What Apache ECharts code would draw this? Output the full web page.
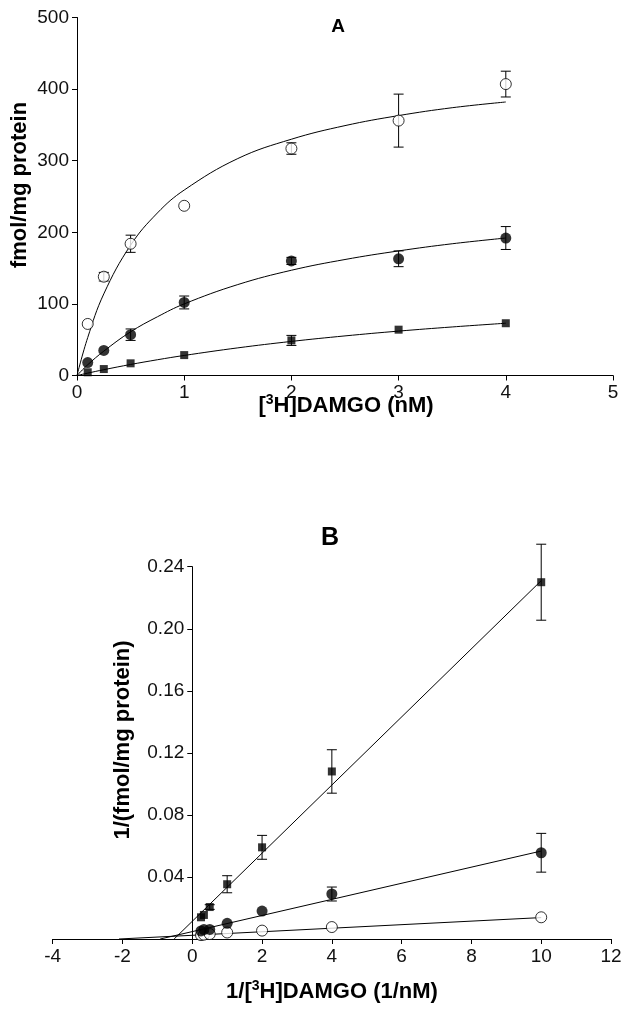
<!DOCTYPE html>
<html>
<head>
<meta charset="utf-8">
<script src="https://cdn.jsdelivr.net/npm/echarts@6/dist/echarts.min.js"></script>
<style>
html,body{margin:0;padding:0;background:#fff;}
#chart{width:629px;height:1011px;}
</style>
</head>
<body>
<div id="chart"></div>
<script>
// ---------- Panel A: saturation binding ----------
const xA = [0.1, 0.25, 0.5, 1, 2, 3, 4];
const openA = [72, 138, 184, 237, 317, 356, 407];
const openAErr = [0, 6, 12, 0, 8, 37, 18];
const filledA = [18, 35, 57, 102, 160, 163, 192];
const filledAErr = [0, 0, 8, 9, 5, 11, 16];
const squareA = [4.5, 9, 17, 28.5, 49, 64, 73];
const squareAErr = [0, 0, 0, 0, 7, 0, 0];

// fitted curves
const fitX = [0, 0.1, 0.25, 0.5, 0.75, 1, 1.5, 2, 2.5, 3, 3.5, 4];
const openFit = [0, 53, 114, 182, 227, 259, 303, 330, 349, 363, 374, 382];
const filledFit = [0, 15, 34, 61, 82, 100, 127, 147, 162, 174, 184, 192];
const squareFit = [0, 3.3, 8.1, 15.4, 22, 28, 38.6, 47.6, 55.3, 62, 67.8, 73];

const xTicksA = [0, 1, 2, 3, 4, 5];
const yTicksA = [0, 100, 200, 300, 400, 500];

// ---------- Panel B: double reciprocal ----------
const xB = [0.25, 0.333, 0.5, 1, 2, 4, 10];
const squareB = [0.014, 0.0155, 0.0206, 0.0353, 0.0591, 0.108, 0.230];
const squareBErr = [0, 0, 0.0015, 0.0055, 0.0077, 0.014, 0.0245];
const filledB = [0.0052, 0.0061, 0.0062, 0.0101, 0.018, 0.029, 0.0556];
const filledBErr = [0, 0, 0, 0, 0, 0.0045, 0.0125];
const openB = [0.0025, 0.0028, 0.0032, 0.0042, 0.0054, 0.0077, 0.014];
const openBErr = [0, 0, 0, 0, 0, 0, 0];

// regression lines
const squareLineX = [-0.52, 10], squareLineY = [0, 0.231];
const filledLineX = [-0.92, 10], filledLineY = [0, 0.0567];
const openLineX = [-2.1, 10], openLineY = [0, 0.0138];

const xTicksB = [-4, -2, 0, 2, 4, 6, 8, 10, 12];
const yTicksB = [0, 0.04, 0.08, 0.12, 0.16, 0.20, 0.24];

const FONT = 'Liberation Sans, Arial, sans-serif';
const zip = (xs, ys) => xs.map((x, i) => [x, ys[i]]);
const zip3 = (xs, ys, es) => xs.map((x, i) => [x, ys[i], es[i]]);

function errRender(params, api) {
  const x = api.value(0), y = api.value(1), e = api.value(2);
  if (!e) return null;
  const t = api.coord([x, y + e]);
  const b = api.coord([x, y - e]);
  const hw = 5;
  const st = { stroke: '#000', lineWidth: 1 };
  return {
    type: 'group',
    children: [
      { type: 'line', shape: { x1: t[0], y1: t[1], x2: b[0], y2: b[1] }, style: st },
      { type: 'line', shape: { x1: t[0] - hw, y1: t[1], x2: t[0] + hw, y2: t[1] }, style: st },
      { type: 'line', shape: { x1: b[0] - hw, y1: b[1], x2: b[0] + hw, y2: b[1] }, style: st }
    ]
  };
}

function errSeries(idx, data) {
  return { type: 'custom', xAxisIndex: idx, yAxisIndex: idx, renderItem: errRender,
    data: data, z: 3, silent: true, clip: false };
}
function lineSeries(idx, data, smooth) {
  return { type: 'line', xAxisIndex: idx, yAxisIndex: idx, data: data, showSymbol: false,
    smooth: smooth, lineStyle: { color: '#000', width: 1 }, z: 2, silent: true };
}
function scatterSeries(idx, data, kind) {
  const s = { type: 'scatter', xAxisIndex: idx, yAxisIndex: idx, data: data, z: 5, silent: true };
  if (kind === 'open') {
    s.symbol = 'circle'; s.symbolSize = 11;
    s.itemStyle = { color: '#fff', borderColor: '#000', borderWidth: 1 };
  } else if (kind === 'filled') {
    s.symbol = 'circle'; s.symbolSize = 11;
    s.itemStyle = { color: '#000' };
  } else {
    s.symbol = 'rect'; s.symbolSize = 8;
    s.itemStyle = { color: '#000' };
  }
  return s;
}

const axisCommon = {
  axisLine: { onZero: false, lineStyle: { color: '#000', width: 1 } },
  axisTick: { length: 5, lineStyle: { color: '#000', width: 1 } },
  splitLine: { show: false },
  axisLabel: { color: '#111', fontSize: 19, fontFamily: FONT, margin: 8 }
};

const gridB = { left: 52.7, top: 566.7, width: 558.3, height: 372.3 };
const xMinB = xTicksB[0], xMaxB = xTicksB[xTicksB.length - 1];
// y axis of panel B sits at x = 0 of the x axis
const yAxisShiftB = -(0 - xMinB) / (xMaxB - xMinB) * gridB.width;

const chart = echarts.init(document.getElementById('chart'), null, { renderer: 'canvas' });

const titleRich = {
  n: { fontSize: 22, fontWeight: 'bold', fontFamily: FONT, color: '#000', lineHeight: 26 },
  s: { fontSize: 14, fontWeight: 'bold', fontFamily: FONT, color: '#000', verticalAlign: 'top', lineHeight: 24 }
};

chart.setOption({
  animation: false,
  backgroundColor: '#fff',
  grid: [
    { left: 77, top: 17.5, width: 536, height: 358 },
    gridB
  ],
  xAxis: [
    Object.assign({}, axisCommon, { gridIndex: 0, type: 'value', min: xTicksA[0], max: xTicksA[xTicksA.length - 1], interval: 1 }),
    Object.assign({}, axisCommon, { gridIndex: 1, type: 'value', min: xMinB, max: xMaxB, interval: 2 })
  ],
  yAxis: [
    Object.assign({}, axisCommon, { gridIndex: 0, type: 'value', min: yTicksA[0], max: yTicksA[yTicksA.length - 1], interval: 100 }),
    Object.assign({}, axisCommon, { gridIndex: 1, type: 'value', min: yTicksB[0], max: yTicksB[yTicksB.length - 1], interval: 0.04,
      offset: yAxisShiftB,
      axisLabel: Object.assign({}, axisCommon.axisLabel, {
        formatter: v => (Math.abs(v) < 1e-9 ? '' : v.toFixed(2))
      })
    })
  ],
  graphic: [
    { type: 'text', x: 338, y: 27, style: { text: 'A', font: 'bold 19px ' + FONT, fill: '#000', align: 'center', verticalAlign: 'middle' } },
    { type: 'text', x: 330, y: 538, style: { text: 'B', font: 'bold 25px ' + FONT, fill: '#000', align: 'center', verticalAlign: 'middle' } },
    { type: 'text', x: 20, y: 185, rotation: Math.PI / 2,
      style: { text: 'fmol/mg protein', font: 'bold 22px ' + FONT, fill: '#000', align: 'center', verticalAlign: 'middle' } },
    { type: 'text', x: 123, y: 740, rotation: Math.PI / 2,
      style: { text: '1/(fmol/mg protein)', font: 'bold 22px ' + FONT, fill: '#000', align: 'center', verticalAlign: 'middle' } },
    { type: 'text', x: 346, y: 406,
      style: { text: '{n|[}{s|3}{n|H]DAMGO (nM)}', rich: titleRich, align: 'center', verticalAlign: 'middle' } },
    { type: 'text', x: 332, y: 992,
      style: { text: '{n|1/[}{s|3}{n|H]DAMGO (1/nM)}', rich: titleRich, align: 'center', verticalAlign: 'middle' } }
  ],
  series: [
    // Panel A
    lineSeries(0, zip(fitX, openFit), 0.4),
    lineSeries(0, zip(fitX, filledFit), 0.4),
    lineSeries(0, zip(fitX, squareFit), 0.4),
    errSeries(0, zip3(xA, openA, openAErr)),
    errSeries(0, zip3(xA, filledA, filledAErr)),
    errSeries(0, zip3(xA, squareA, squareAErr)),
    scatterSeries(0, zip(xA, openA), 'open'),
    scatterSeries(0, zip(xA, filledA), 'filled'),
    scatterSeries(0, zip(xA, squareA), 'square'),
    // Panel B
    lineSeries(1, zip(squareLineX, squareLineY), false),
    lineSeries(1, zip(filledLineX, filledLineY), false),
    lineSeries(1, zip(openLineX, openLineY), false),
    errSeries(1, zip3(xB, squareB, squareBErr)),
    errSeries(1, zip3(xB, filledB, filledBErr)),
    errSeries(1, zip3(xB, openB, openBErr)),
    scatterSeries(1, zip(xB, openB), 'open'),
    scatterSeries(1, zip(xB, filledB), 'filled'),
    scatterSeries(1, zip(xB, squareB), 'square')
  ]
});
</script>
</body>
</html>
